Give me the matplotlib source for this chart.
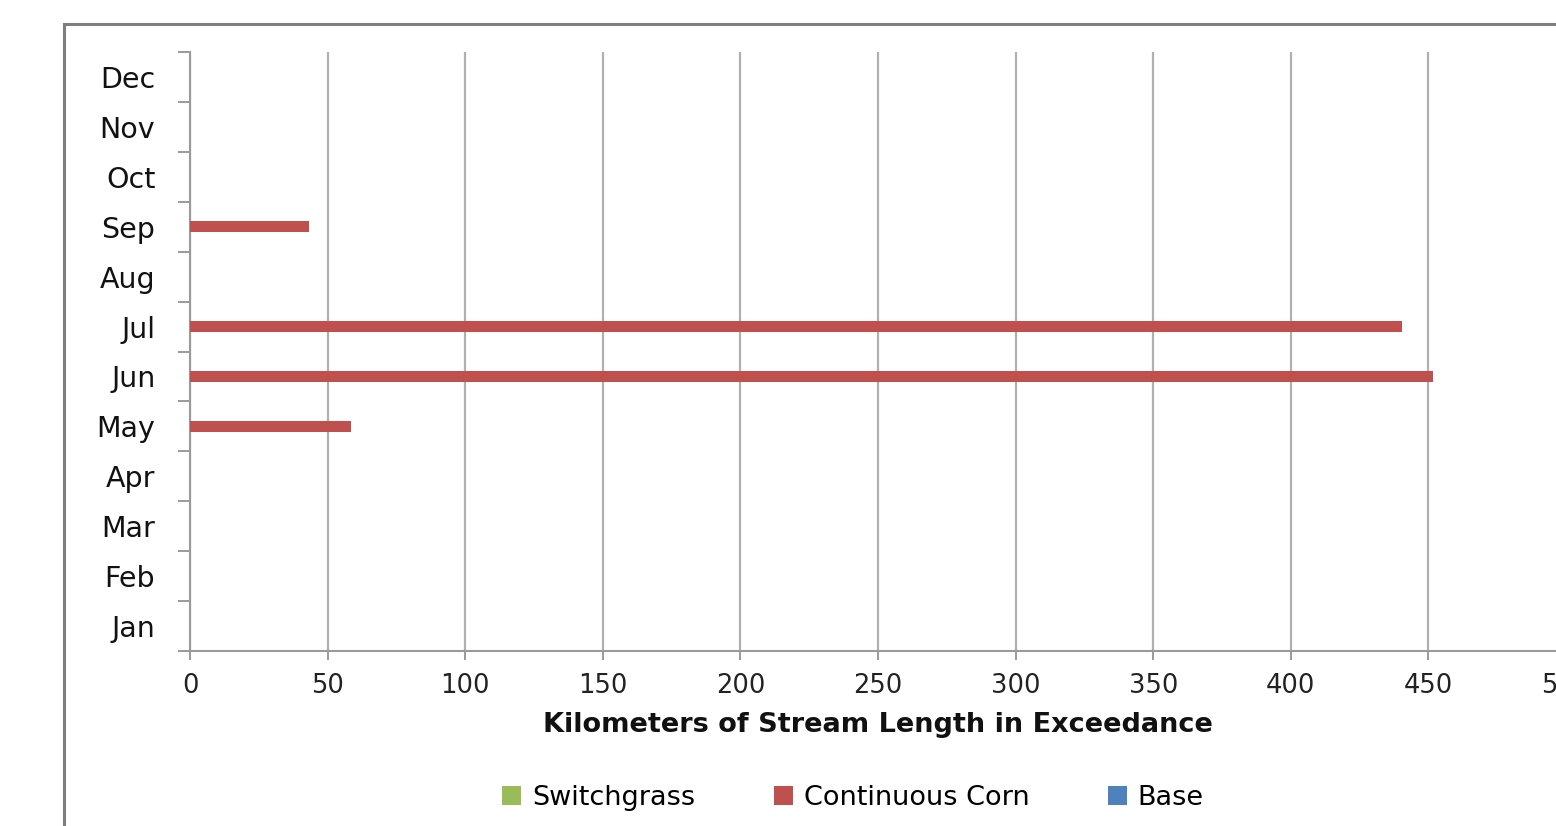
import matplotlib
matplotlib.use("Agg")
import matplotlib.pyplot as plt
import matplotlib.patches as mpatches
import numpy as np

months = ["Jan", "Feb", "Mar", "Apr", "May", "Jun",
          "Jul", "Aug", "Sep", "Oct", "Nov", "Dec"]
switchgrass = [0, 0, 0, 0, 0, 0, 0, 0, 0, 0, 0, 0]
continuous_corn = [0, 0, 0, 0, 58.6, 451.7, 440.3, 0, 43.1, 0, 0, 0]
base = [0, 0, 0, 0, 0, 0, 0, 0, 0, 0, 0, 0]
x_ticks = [0, 50, 100, 150, 200, 250, 300, 350, 400, 450, 500]

series = [("Switchgrass", switchgrass, "#9BBB59"),
          ("Continuous Corn", continuous_corn, "#C0504D"),
          ("Base", base, "#4F81BD")]

W, H = 1556, 826
fig = plt.figure(figsize=(W / 100, H / 100), dpi=100)
fig.patch.set_facecolor("white")

# outer chart frame
frame = mpatches.Rectangle((64 / W, -0.2), 2.0, 1.2 - 24 / H,
                           transform=fig.transFigure, fill=False,
                           edgecolor="#7f7f7f", linewidth=2.2, zorder=0)
fig.add_artist(frame)

left, right, top, bottom = 190, 1566, 52, 651
ax = fig.add_axes([left / W, 1 - bottom / H, (right - left) / W, (bottom - top) / H])
ax.set_facecolor("none")

y = np.arange(len(months))
bar_h = 0.225
for i, (name, vals, col) in enumerate(series):
    ax.barh(y + (i - 1) * bar_h, vals, height=bar_h, color=col,
            label=name, linewidth=0, zorder=3)

ax.set_xlim(0, 500)
ax.set_ylim(-0.5, len(months) - 0.5)
ax.set_xticks(x_ticks)
ax.set_xticklabels([str(v) for v in x_ticks], fontsize=18.5, color="#222222")
ax.set_yticks(y)
ax.set_yticklabels(months, fontsize=20.5, color="#111111")
ax.set_yticks(np.arange(-0.5, len(months), 1.0), minor=True)

axis_col = "#9a9a9a"
ax.tick_params(axis="y", which="major", length=0, pad=25)
ax.tick_params(axis="y", which="minor", length=8.6, width=1.4, color=axis_col, direction="out")
ax.tick_params(axis="x", which="major", length=6.5, width=1.4, color=axis_col, pad=9)

ax.xaxis.grid(True, color="#b0b0b0", linewidth=1.6, zorder=0)
ax.set_axisbelow(True)
for s in ["top", "right"]:
    ax.spines[s].set_visible(False)
for s in ["left", "bottom"]:
    ax.spines[s].set_color(axis_col)
    ax.spines[s].set_linewidth(1.5)

ax.set_xlabel("Kilometers of Stream Length in Exceedance", fontsize=19.5,
              fontweight="bold", color="#111111", labelpad=10)

fig.legend(loc="center", bbox_to_anchor=(853 / W, 1 - 798 / H), ncol=3,
           frameon=False, fontsize=19.5, handlelength=0.7, handleheight=0.7,
           handletextpad=0.4, columnspacing=2.9)

fig.savefig("out.png", dpi=100)
